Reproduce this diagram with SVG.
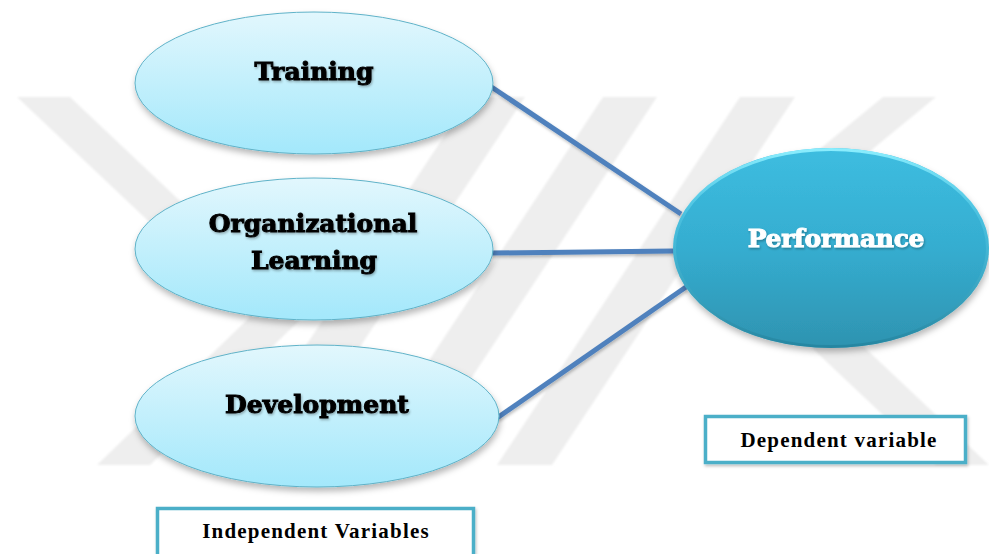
<svg xmlns="http://www.w3.org/2000/svg" width="989" height="554" viewBox="0 0 989 554">
  <defs>
    <linearGradient id="lightFill" x1="0" y1="0" x2="0" y2="1">
      <stop offset="0" stop-color="#e2f7fd"/>
      <stop offset="1" stop-color="#a3e8fb"/>
    </linearGradient>
    <linearGradient id="darkFill" x1="0" y1="0" x2="0" y2="1">
      <stop offset="0" stop-color="#3dbde0"/>
      <stop offset="0.5" stop-color="#35add0"/>
      <stop offset="1" stop-color="#2e93b0"/>
    </linearGradient>
    <linearGradient id="rimLight" x1="0" y1="0" x2="0" y2="1">
      <stop offset="0" stop-color="#8ff0ff" stop-opacity="0.95"/>
      <stop offset="0.35" stop-color="#6fdcf2" stop-opacity="0.3"/>
      <stop offset="1" stop-color="#1f7d97" stop-opacity="0.6"/>
    </linearGradient>
    <filter id="shadow" x="-10%" y="-10%" width="125%" height="130%">
      <feDropShadow dx="1" dy="4" stdDeviation="3" flood-color="#000" flood-opacity="0.28"/>
    </filter>
    <filter id="lineShadow" x="-5%" y="-20%" width="110%" height="140%">
      <feDropShadow dx="1" dy="2" stdDeviation="1.5" flood-color="#000" flood-opacity="0.25"/>
    </filter>
    <filter id="textShadow" x="-5%" y="-20%" width="110%" height="150%">
      <feDropShadow dx="1" dy="1.5" stdDeviation="1" flood-color="#000" flood-opacity="0.3"/>
    </filter>
    <filter id="soft" x="-2%" y="-2%" width="104%" height="104%">
      <feGaussianBlur stdDeviation="1"/>
    </filter>
  </defs>
  <style>
    .mark { fill: #eeeeee; }
    .light { fill: url(#lightFill); stroke: #5fb2c8; stroke-width: 1; filter: url(#shadow); }
    .label { font-family: "DejaVu Serif", "Liberation Serif", serif; font-weight: bold; font-size: 25px; text-anchor: middle; fill: #000; stroke: #000; stroke-width: 1; filter: url(#textShadow); }
    .labelWhite { fill: #fff; stroke: #fff; }
    .link { stroke: #4f81bd; stroke-width: 5; fill: none; }
    .caption { fill: #fff; stroke: #4bafc8; stroke-width: 3.5; filter: url(#lineShadow); }
    .captionText { font-family: "Liberation Serif", "Times New Roman", serif; font-weight: bold; font-size: 21px; text-anchor: middle; fill: #000; letter-spacing: 1.2px; }
  </style>

  <rect width="989" height="554" fill="#fff"/>

  <!-- faint background emblem -->
  <g id="emblem" filter="url(#soft)">
    <polygon class="mark" points="17,97 70,97 303,317 150,465 97,465 250,317"/>
    <polygon class="mark" points="470,97 525,97 282,465 227,465"/>
    <polygon class="mark" points="603,97 657,97 414,465 360,465"/>
    <polygon class="mark" points="740,97 795,97 552,465 497,465"/>
    <polygon class="mark" points="936,97 883,97 703,245 936,465 989,465 756,245"/>
  </g>

  <!-- connectors -->
  <g id="connectors" filter="url(#lineShadow)">
    <line class="link" x1="490" y1="86" x2="681" y2="214"/>
    <line class="link" x1="491" y1="253" x2="674" y2="251"/>
    <line class="link" x1="497" y1="418" x2="686" y2="287"/>
  </g>

  <g id="training">
    <ellipse class="light" cx="314" cy="83" rx="179" ry="71"/>
    <text class="label" x="314" y="80">Training</text>
  </g>

  <g id="organizational-learning">
    <ellipse class="light" cx="314" cy="249" rx="179" ry="71"/>
    <text class="label" x="313" y="232">Organizational</text>
    <text class="label" x="314" y="269">Learning</text>
  </g>

  <g id="development">
    <ellipse class="light" cx="317" cy="416" rx="182" ry="71"/>
    <text class="label" x="317" y="413">Development</text>
  </g>

  <g id="performance">
    <ellipse cx="831" cy="248" rx="158" ry="100" fill="url(#darkFill)" filter="url(#shadow)"/>
    <ellipse cx="831" cy="248" rx="156.5" ry="98.5" fill="none" stroke="url(#rimLight)" stroke-width="3"/>
    <text class="label labelWhite" x="836" y="247" font-size="26" letter-spacing="-0.3">Performance</text>
  </g>

  <g id="dependent-label">
    <rect class="caption" x="705.5" y="416.5" width="260" height="46"/>
    <text class="captionText" x="839" y="447">Dependent variable</text>
  </g>

  <g id="independent-label">
    <rect class="caption" x="157.5" y="508.5" width="316" height="60"/>
    <text class="captionText" x="316" y="538">Independent Variables</text>
  </g>
</svg>
